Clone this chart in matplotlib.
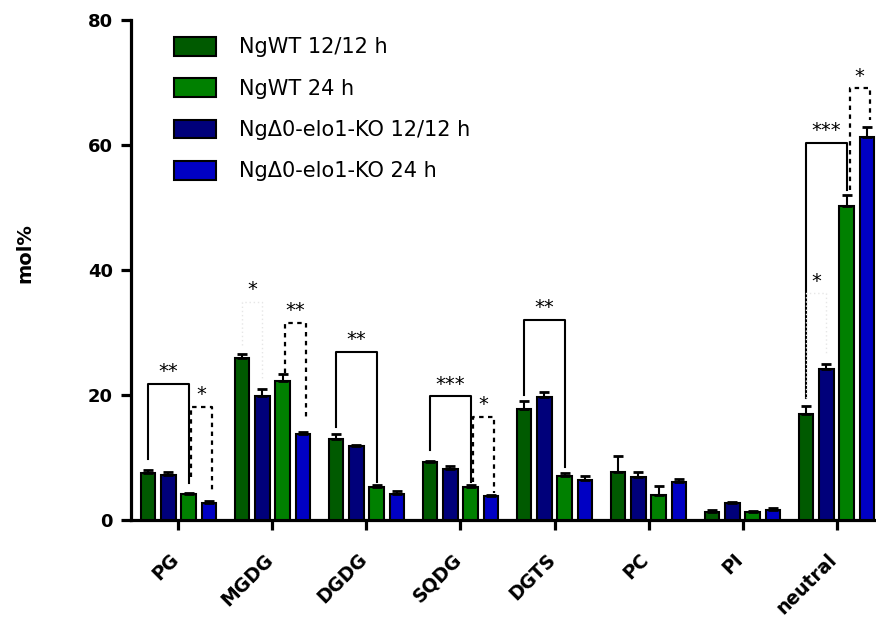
import matplotlib
matplotlib.use("Agg")
import matplotlib.pyplot as plt
from matplotlib.patches import Patch
from matplotlib.transforms import ScaledTranslation
import numpy as np

plt.rcParams['font.family'] = ['DejaVu Sans']

categories = ["PG", "MGDG", "DGDG", "SQDG", "DGTS", "PC", "PI", "neutral"]
series_labels = ["NgWT 12/12 h", "NgWT 24 h", "NgΔ0-elo1-KO 12/12 h", "NgΔ0-elo1-KO 24 h"]

wt_12 = [7.57, 25.9, 13.0, 9.23, 17.8, 7.68, 1.33, 16.9]
ko_12 = [7.25, 19.8, 11.8, 8.1, 19.7, 6.83, 2.67, 24.1]
wt_24 = [4.1, 22.2, 5.33, 5.23, 7.0, 3.95, 1.33, 50.2]
ko_24 = [2.77, 13.7, 4.1, 3.84, 6.35, 6.13, 1.65, 61.3]

wt_12_err = [0.5, 0.7, 0.8, 0.2, 1.2, 2.6, 0.2, 1.3]
ko_12_err = [0.5, 1.2, 0.15, 0.5, 0.75, 0.8, 0.25, 0.9]
wt_24_err = [0.15, 1.2, 0.27, 0.35, 0.6, 1.45, 0.1, 1.75]
ko_24_err = [0.2, 0.35, 0.5, 0.15, 0.75, 0.5, 0.25, 1.6]

# significance brackets: (group, bar_a, bar_b, top, left_bottom, right_bottom, label, style)
# bar index order within group: 0 WT12, 1 KO12, 2 WT24, 3 KO24
brackets = [
    (0, 0, 2, 21.8, 9.8, 6.0, "**", "solid"),
    (0, 2, 3, 18.1, 6.9, 4.5, "*", "dashed"),
    (1, 0, 1, 34.9, 28.0, 22.5, "*", "faint"),
    (1, 2, 3, 31.6, 23.5, 16.5, "**", "dashed"),
    (2, 0, 2, 26.9, 14.9, 6.1, "**", "solid"),
    (3, 0, 2, 19.8, 11.2, 6.1, "***", "solid"),
    (3, 2, 3, 16.5, 6.1, 4.3, "*", "dashed"),
    (4, 0, 2, 32.0, 20.0, 8.5, "**", "solid"),
    (7, 0, 2, 60.4, 19.5, 52.8, "***", "solid"),
    (7, 2, 3, 69.1, 52.8, 64.0, "*", "dashed"),
    (7, 0, 1, 36.3, 19.5, 26.5, "*", "faint"),
]

colors_bar = ["#005a00", "#00007a", "#008000", "#0000c4"]
legend_colors = ["#005a00", "#008000", "#00007a", "#0000c4"]

W, H = 876, 617
fig = plt.figure(figsize=(W / 100, H / 100), dpi=100)
ax = fig.add_axes([131 / W, (617 - 520) / H, 1 - 131 / W, (520 - 20) / H])

x = np.arange(len(categories))
step = 0.216
width = 0.155
series = [wt_12, ko_12, wt_24, ko_24]
errs = [wt_12_err, ko_12_err, wt_24_err, ko_24_err]
offsets = [-1.5, -0.5, 0.5, 1.5]

for s, e, c, o in zip(series, errs, colors_bar, offsets):
    xs = x + o * step
    ax.bar(xs, s, width=width, color=c, edgecolor="black", linewidth=1.5, zorder=3)
    ax.errorbar(xs, s, yerr=[np.zeros(len(s)), e], fmt="none", ecolor="black",
                elinewidth=1.5, capsize=3.5, capthick=2, zorder=4)

for g, a, b, top, lb, rb, lab, style in brackets:
    xa = x[g] + offsets[a] * step
    xb = x[g] + offsets[b] * step
    if style == "solid":
        kw = dict(color="black", lw=1.5, linestyle="-")
    elif style == "dashed":
        xa += 0.03
        xb += 0.03
        kw = dict(color="black", lw=1.6, linestyle=(0, (2, 2)))
    else:
        kw = dict(color="#e6e6e6", lw=1.0, linestyle=(0, (1, 2)))
    ax.plot([xa, xa, xb, xb], [lb, top, top, rb], zorder=5, **kw)
    ax.text((xa + xb) / 2, top + 0.4, lab, ha="center", va="bottom",
            fontsize=14, color="black", zorder=6)

ax.set_xlim(-0.504, 7.419)
ax.set_ylim(0, 80)
ax.set_yticks([0, 20, 40, 60, 80])
ax.set_xticks(x)
ax.set_xticklabels([])
label_tf = ax.get_xaxis_transform() + ScaledTranslation(-0.09, -0.30, fig.dpi_scale_trans)
for xi, cat in zip(x, categories):
    ax.text(xi, 0, cat, transform=label_tf, rotation=45, ha="right", va="top",
            rotation_mode="anchor", fontsize=13.5, fontweight="bold", clip_on=False)
for t in ax.get_yticklabels():
    t.set_fontsize(13)
    t.set_fontweight("bold")

for sp in ["top", "right"]:
    ax.spines[sp].set_visible(False)
for sp in ["left", "bottom"]:
    ax.spines[sp].set_linewidth(2.3)

ax.tick_params(axis="both", direction="out", length=7, width=2.3, pad=6)

fig.text(25 / W, 1 - 253 / H, "mol%", rotation=90, ha="center", va="center",
         fontsize=14, fontweight="bold")

handles = [Patch(facecolor=c, edgecolor="black", linewidth=1.5) for c in legend_colors]
ax.legend(handles, series_labels, loc="upper left",
          bbox_to_anchor=(174 / W, 1 - 37 / H), bbox_transform=fig.transFigure,
          frameon=False, borderpad=0, borderaxespad=0, fontsize=15,
          handlelength=2.0, handleheight=1.0, handletextpad=1.1, labelspacing=1.0)

fig.savefig("out.png", dpi=100)
